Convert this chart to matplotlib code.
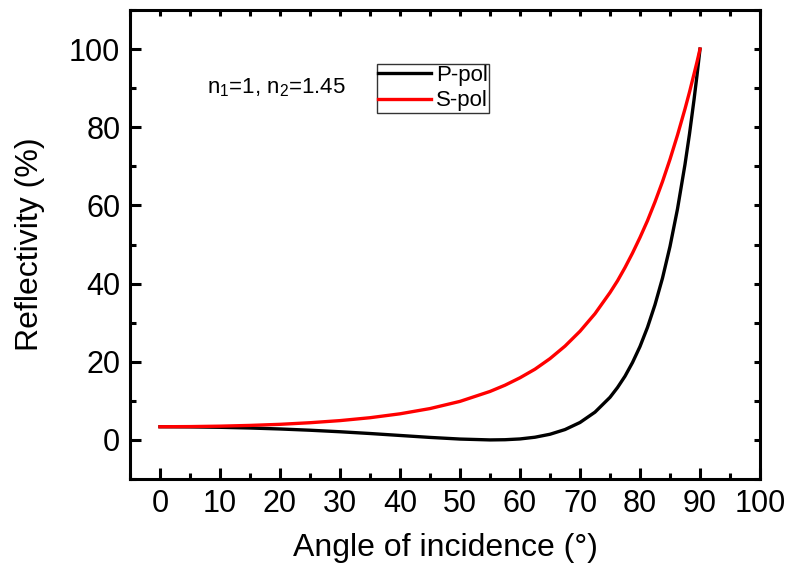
import numpy as np
import matplotlib.pyplot as plt
from matplotlib.ticker import MultipleLocator

plt.rcParams['font.family'] = ['Liberation Sans', 'DejaVu Sans']
plt.rcParams['mathtext.fontset'] = 'custom'
plt.rcParams['mathtext.rm'] = 'Liberation Sans'

# angle of incidence (deg) and reflectivity (%)
angle = [0, 5, 10, 15, 20, 25, 30, 35, 40, 45, 50, 55, 57.5, 60, 62.5, 65, 67.5,
         70, 72.5, 75, 76.25, 77.5, 78.75, 80, 81.25, 82.5, 83.75, 85, 86.25,
         87.5, 88.25, 89, 89.5, 90]
p_pol = [3.37, 3.33, 3.23, 3.05, 2.80, 2.48, 2.09, 1.64, 1.14, 0.64, 0.22, 0.0, 0.05, 0.25, 0.69, 1.45, 2.65,
         4.46, 7.11, 10.9, 13.4, 16.3, 19.8, 23.9, 28.8, 34.6, 41.4, 49.5, 59.1,
         70.5, 78.3, 87.0, 93.3, 100]
s_pol = [3.37, 3.41, 3.52, 3.71, 3.99, 4.40, 4.94, 5.68, 6.68, 8.02, 9.86, 12.4, 14.0, 15.9, 18.1, 20.8, 24.0,
         27.8, 32.3, 37.7, 40.7, 44.1, 47.8, 51.8, 56.1, 60.9, 66.1, 71.8, 78.0,
         84.7, 89.0, 93.6, 96.7, 100]

fig = plt.figure(figsize=(7.85, 5.67), dpi=100)
ax = fig.add_axes([130 / 785, 1 - 479 / 567, 630 / 785, 469 / 567])

ax.plot(angle, p_pol, color='black', lw=2.4, label='P-pol')
ax.plot(angle, s_pol, color='red', lw=2.4, label='S-pol')

ax.set_xlim(-5, 100)
ax.set_ylim(-10, 110)
ax.xaxis.set_major_locator(MultipleLocator(10))
ax.xaxis.set_minor_locator(MultipleLocator(5))
ax.yaxis.set_major_locator(MultipleLocator(20))
ax.yaxis.set_minor_locator(MultipleLocator(10))

for s in ax.spines.values():
    s.set_linewidth(2.2)
ax.tick_params(which='major', direction='in', length=8, width=2.2, labelsize=22, pad=7)
ax.tick_params(which='minor', direction='in', length=4, width=2.2)
# top/right: short ticks only
ax2 = ax.secondary_xaxis('top')
ax2.xaxis.set_major_locator(MultipleLocator(5))
ax2.tick_params(direction='in', length=4, width=2.2, labeltop=False)
ax3 = ax.secondary_yaxis('right')
ax3.yaxis.set_major_locator(MultipleLocator(10))
ax3.tick_params(direction='in', length=4, width=2.2, labelright=False)

ax.set_xlabel('Angle of incidence (°)', fontsize=23, labelpad=10)
ax.set_ylabel('Reflectivity (%)', fontsize=23, labelpad=17)

ax.text(0.122, 0.834, 'n$_1$=1, n$_2$=1.45', transform=ax.transAxes,
        fontsize=16, va='center')

leg = ax.legend(loc='upper left', bbox_to_anchor=(247 / 630, 0.885), fontsize=16,
                frameon=True, fancybox=False, handlelength=2.4, handletextpad=0.2,
                borderpad=0.05, labelspacing=0.2, borderaxespad=0)
leg.get_frame().set_edgecolor('black')
leg.get_frame().set_linewidth(1.0)

fig.savefig('out.png', dpi=100)
